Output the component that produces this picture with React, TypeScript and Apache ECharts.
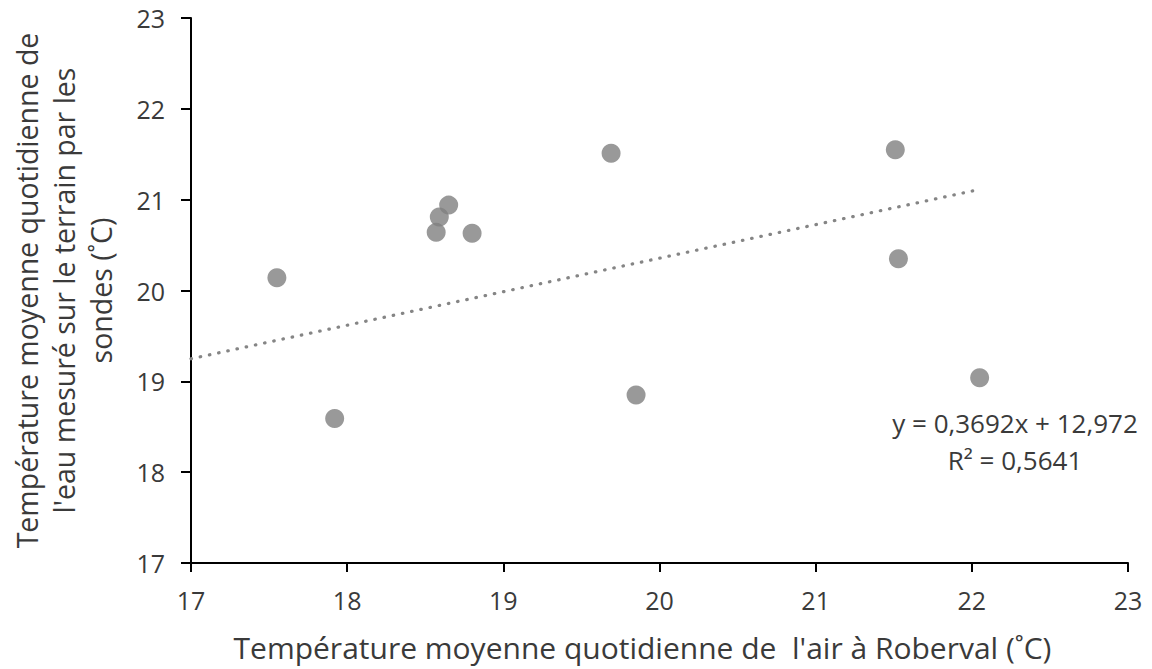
import React, { useEffect, useRef } from "react";
import * as echarts from "echarts";

// Mean daily air temperature at Roberval (°C)
const airTemp = [17.55, 17.92, 18.57, 18.59, 18.65, 18.8, 19.69, 19.85, 21.51, 21.53, 22.05];
// Mean daily water temperature measured by the field probes (°C)
const waterTemp = [20.14, 18.59, 20.64, 20.81, 20.94, 20.63, 21.51, 18.85, 21.55, 20.35, 19.04];

// Linear trend line coefficients (as reported on the chart)
const slope = 0.3692;
const intercept = 12.972;
const rSquared = 0.5641;

const axisMin = 17;
const axisMax = 23;
const tickStep = 1;

const xTitle = "Température moyenne quotidienne de  l'air à Roberval (˚C)";
const yTitleLines = [
  "Température moyenne quotidienne de",
  "l'eau mesuré sur le terrain par les",
  "sondes (˚C)",
];

const fmt = (v: number, d: number) => v.toFixed(d).replace(".", ",");

export default function App() {
  const ref = useRef<HTMLDivElement>(null);

  useEffect(() => {
    document.body.style.margin = "0";
    if (!ref.current) return;
    const chart = echarts.init(ref.current, undefined, { renderer: "svg" });

    const font = "'Open Sans', sans-serif";
    const textColor = "#3a3a3a";
    const points = airTemp.map((x, i) => [x, waterTemp[i]]);
    const trendEnd = Math.max(...airTemp);
    const trend = [axisMin, trendEnd].map((x) => [x, slope * x + intercept]);

    chart.setOption({
      animation: false,
      backgroundColor: "#ffffff",
      grid: { left: 188, right: 24, top: 18, bottom: 106 },
      xAxis: {
        type: "value",
        min: axisMin,
        max: axisMax,
        interval: tickStep,
        name: xTitle,
        nameLocation: "middle",
        nameGap: 69,
        nameTextStyle: { fontFamily: font, fontSize: 30, color: textColor, padding: [0, 34, 0, 0] },
        axisLine: { show: true, lineStyle: { color: "#000000", width: 2 } },
        axisTick: { show: true, length: 9, lineStyle: { color: "#000000", width: 2 } },
        axisLabel: { fontFamily: font, fontSize: 25, color: textColor, margin: 24 },
        splitLine: { show: false },
      },
      yAxis: {
        type: "value",
        min: axisMin,
        max: axisMax,
        interval: tickStep,
        name: yTitleLines.join("\n"),
        nameLocation: "middle",
        nameRotate: 90,
        nameGap: 72,
        nameTextStyle: { fontFamily: font, fontSize: 28.5, color: textColor, lineHeight: 37, align: "center" },
        axisLine: { show: true, lineStyle: { color: "#000000", width: 2 } },
        axisTick: { show: true, length: 10, lineStyle: { color: "#000000", width: 2 } },
        axisLabel: { fontFamily: font, fontSize: 25, color: textColor, margin: 26 },
        splitLine: { show: false },
      },
      series: [
        {
          type: "line",
          data: trend,
          symbol: "none",
          silent: true,
          lineStyle: { color: "#858585", width: 3.2, type: [0.5, 8.9], cap: "round" },
          z: 1,
        },
        {
          type: "scatter",
          data: points,
          symbol: "circle",
          symbolSize: 19,
          itemStyle: { color: "#808080" },
          z: 2,
        },
      ],
      graphic: [
        {
          type: "text",
          x: 1015,
          y: 441,
          style: {
            text: `y = ${fmt(slope, 4)}x + ${fmt(intercept, 3)}\nR² = ${fmt(rSquared, 4)}`,
            font: `26px ${font}`,
            fill: textColor,
            align: "center",
            verticalAlign: "middle",
            lineHeight: 37,
          },
        },
      ],
    });

    return () => chart.dispose();
  }, []);

  return <div ref={ref} style={{ width: 1152, height: 669 }} />;
}
